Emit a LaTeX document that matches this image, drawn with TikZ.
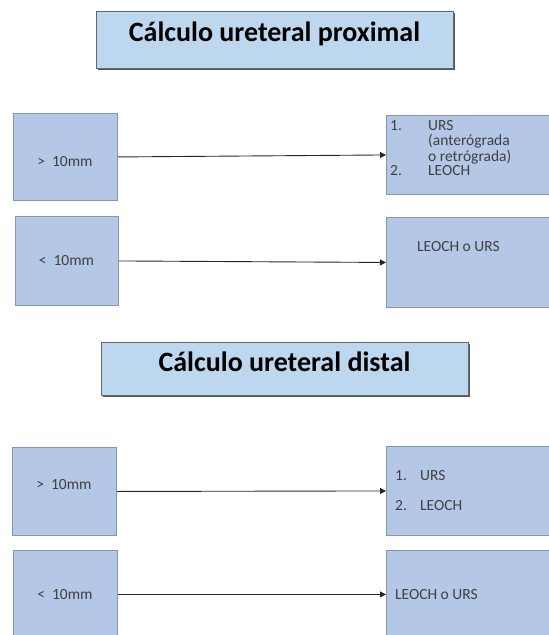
\documentclass[tikz,border=0pt]{standalone}
\usepackage{fontspec}
\setmainfont{Carlito}
\usetikzlibrary{arrows.meta,shadows}
\definecolor{cajaazul}{HTML}{B4C7E7}
\definecolor{bordeazul}{HTML}{8497B0}
\definecolor{tituloazul}{HTML}{BDD7EE}
\definecolor{textogris}{HTML}{404040}
\begin{document}
\begin{tikzpicture}[x=1pt,y=-1pt,
	caja/.style={draw=bordeazul, fill=cajaazul, line width=0.9pt, anchor=north west, inner sep=0pt},
	titulo/.style={draw=black!60, fill=tituloazul, line width=0.9pt, anchor=north west, inner sep=0pt,
		drop shadow={shadow xshift=1.5pt, shadow yshift=-1.5pt, fill=black!65, opacity=1}},
	tit/.style={font=\fontsize{28}{30}\selectfont\bfseries, anchor=base, inner sep=0pt},
	txt/.style={text=textogris, font=\fontsize{15.5}{13.2}\selectfont, anchor=base west, inner sep=0pt},
	flecha/.style={-{Triangle[length=6pt,width=6pt]}, line width=0.9pt, black!85}]
				\useasboundingbox (0,0) rectangle (549,635);
				%Titulo proximal
				\node[titulo, minimum width=357pt, minimum height=57pt] (tprox) at (96,11) {};
				\node[tit] (tproxt) at (274.5,41) {Cálculo ureteral proximal};
				%Proximal mayor de 10mm
				\node[caja, minimum width=104pt, minimum height=87pt] (pmay) at (13,113) {};
				\node[txt, anchor=base] (pmayt) at (65,166) {>\ \ 10mm};
				\node[caja, minimum width=175pt, minimum height=79pt] (pmayr) at (386,115) {};
				\node[txt] (pmayrt) at (390,130.7) {\begin{tabular}[t]{@{}p{38pt}@{}l@{}}
					1. & URS\\
					   & (anterógrada\\
					   & o retrógrada)\\
					2. & LEOCH
				\end{tabular}};
				\draw[flecha] (pmay.east) -- (pmayr.west);
				%Proximal menor de 10mm
				\node[caja, minimum width=103pt, minimum height=89pt] (pmen) at (15,216) {};
				\node[txt, anchor=base] (pment) at (66.5,265.7) {<\ \ 10mm};
				\node[caja, minimum width=175pt, minimum height=90pt] (pmenr) at (386,217) {};
				\node[txt] (pmenrt) at (417,251.7) {LEOCH o URS};
				\draw[flecha] (pmen.east) -- (pmenr.west);
				%Titulo distal
				\node[titulo, minimum width=367pt, minimum height=53pt] (tdist) at (101,342) {};
				\node[tit] (tdistt) at (284.5,371) {Cálculo ureteral distal};
				%Distal mayor de 10mm
				\node[caja, minimum width=104pt, minimum height=88pt] (dmay) at (12,447) {};
				\node[txt, anchor=base] (dmayt) at (64,489) {>\ \ 10mm};
				\node[caja, minimum width=175pt, minimum height=89pt] (dmayr) at (386,446) {};
				\node[txt] (dmayrt) at (395,480.7) {\begin{tabular}[t]{@{}p{25pt}@{}l@{}}
					1. & URS\\[16pt]
					2. & LEOCH
				\end{tabular}};
				\draw[flecha] (dmay.east) -- (dmayr.west);
				%Distal menor de 10mm
				\node[caja, minimum width=104pt, minimum height=88pt] (dmen) at (13,550) {};
				\node[txt, anchor=base] (dment) at (65,599) {<\ \ 10mm};
				\node[caja, minimum width=175pt, minimum height=88pt] (dmenr) at (386,550) {};
				\node[txt] (dmenrt) at (395,599) {LEOCH o URS};
				\draw[flecha] (dmen.east) -- (dmenr.west);
			\end{tikzpicture}
\end{document}
